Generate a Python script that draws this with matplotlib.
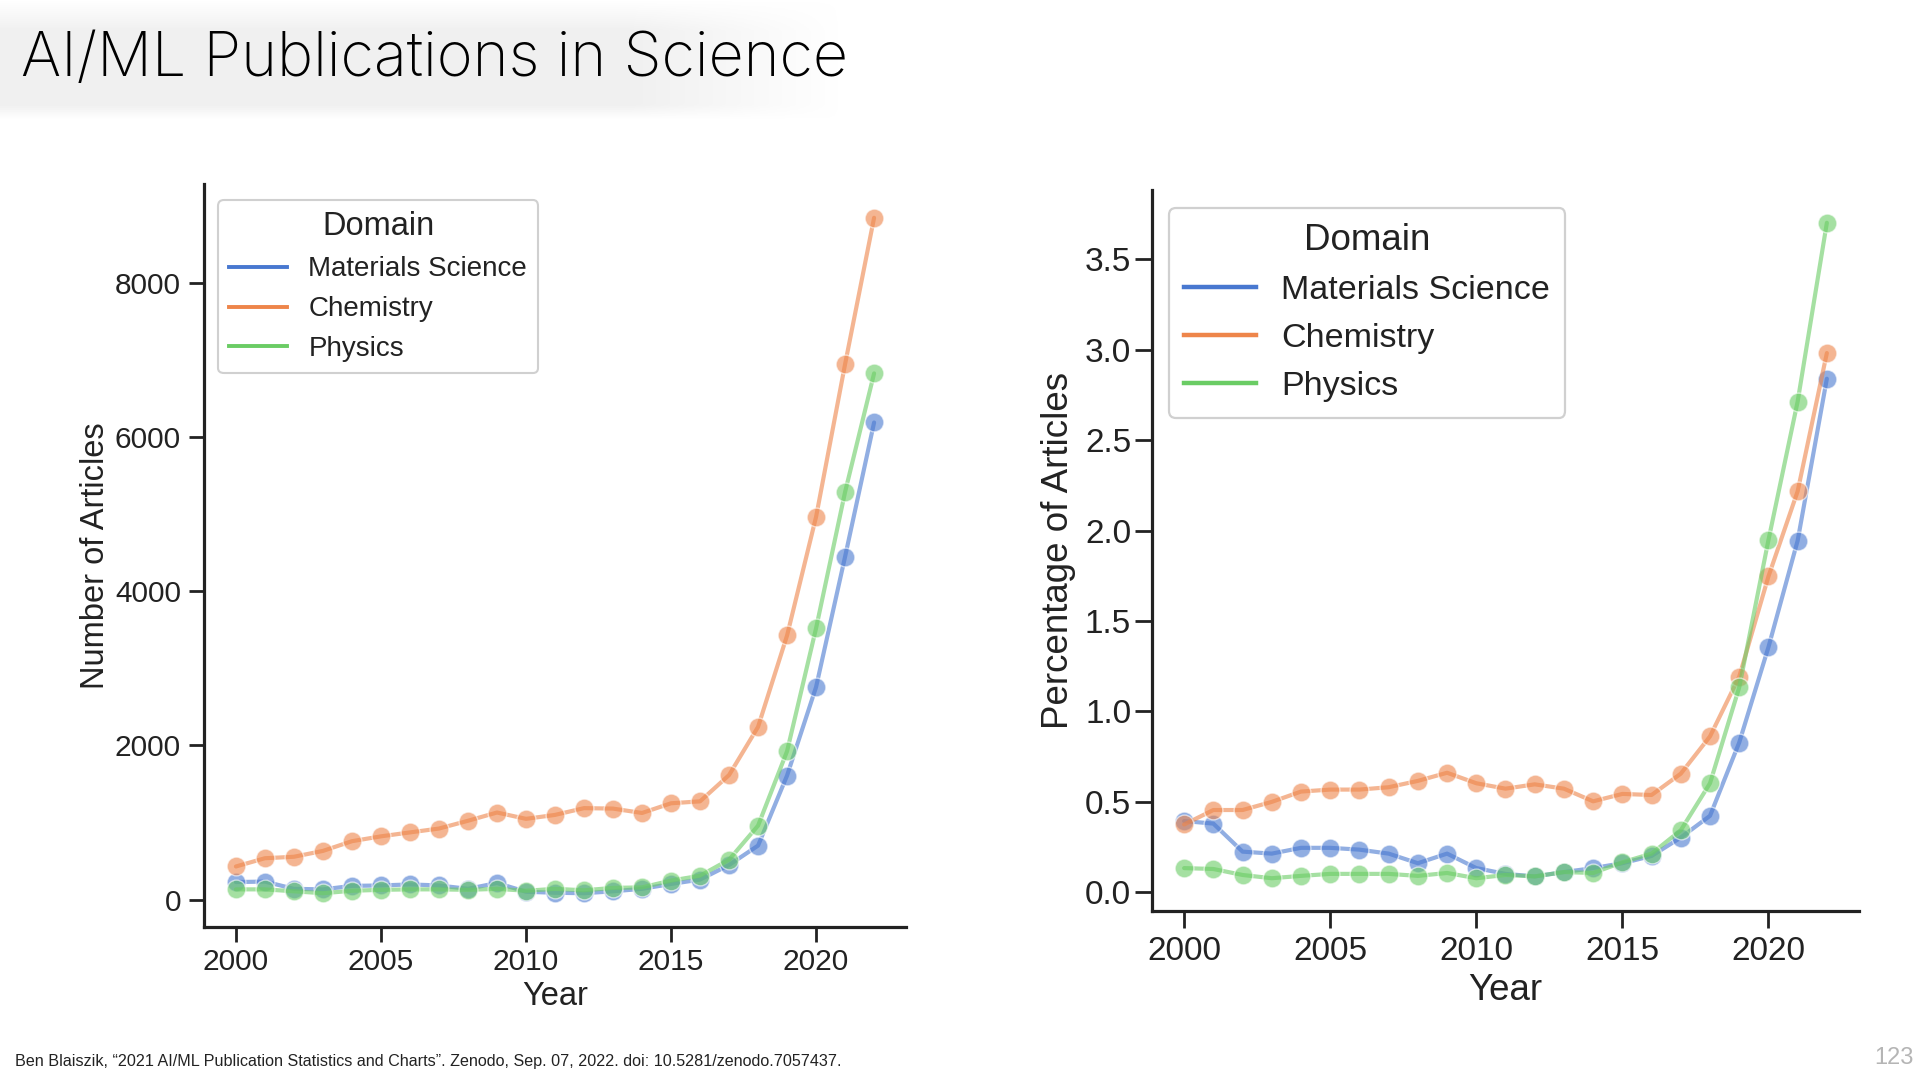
import numpy as np
import matplotlib
matplotlib.use("Agg")
import matplotlib.pyplot as plt

# ---------------- data ----------------
years = list(range(2000, 2023))
domains = ["Materials Science", "Chemistry", "Physics"]

count_materials = [227, 233, 139, 132, 177, 183, 196, 183, 139, 215, 101, 88, 82, 107, 139, 202, 259, 448, 700, 1609, 2757, 4448, 6189]
count_chemistry = [429, 536, 555, 631, 757, 820, 871, 921, 1022, 1129, 1047, 1098, 1186, 1180, 1123, 1249, 1274, 1615, 2240, 3426, 4965, 6946, 8845]
count_physics = [132, 132, 107, 82, 114, 126, 132, 132, 126, 139, 114, 139, 120, 151, 158, 246, 309, 517, 959, 1924, 3520, 5287, 6826]

pct_materials = [0.394, 0.380, 0.225, 0.214, 0.246, 0.246, 0.236, 0.214, 0.161, 0.214, 0.134, 0.102, 0.088, 0.112, 0.134, 0.161, 0.201, 0.303, 0.423, 0.828, 1.355, 1.944, 2.839]
pct_chemistry = [0.375, 0.455, 0.455, 0.500, 0.557, 0.568, 0.568, 0.581, 0.616, 0.661, 0.603, 0.573, 0.597, 0.573, 0.503, 0.544, 0.538, 0.656, 0.862, 1.192, 1.746, 2.217, 2.981]
pct_physics = [0.134, 0.129, 0.096, 0.078, 0.091, 0.102, 0.102, 0.102, 0.091, 0.107, 0.078, 0.096, 0.088, 0.112, 0.107, 0.166, 0.214, 0.343, 0.603, 1.133, 1.947, 2.713, 3.701]

x_ticks = [2000, 2005, 2010, 2015, 2020]
left_yticks = [0, 2000, 4000, 6000, 8000]
right_yticks = [0.0, 0.5, 1.0, 1.5, 2.0, 2.5, 3.0, 3.5]

title_text = "AI/ML Publications in Science"
footer_text = "Ben Blaiszik, \u201c2021 AI/ML Publication Statistics and Charts\u201d. Zenodo, Sep. 07, 2022. doi: 10.5281/zenodo.7057437."
page_text = "123"

colors = ["#4878D0", "#EE854A", "#6ACC64"]

plt.rcParams["font.family"] = ["Liberation Sans", "DejaVu Sans"]

fig = plt.figure(figsize=(19.2, 10.8), dpi=100)
fig.patch.set_facecolor("white")

# ---- title background gradient ----
bg = fig.add_axes([0, 1 - 120 / 1080, 840 / 1920, 120 / 1080], zorder=-5)
gx = np.linspace(0, 1, 400)
gy = np.linspace(0, 1, 60)
fx = np.clip((1 - gx) / 0.25, 0, 1)
fy = np.clip(gy / 0.25, 0, 1) * np.clip((1 - gy) / 0.12, 0, 1)
alpha = np.outer(fy, fx) * 0.75
img = np.zeros((60, 400, 4))
img[..., 0:3] = 0.925
img[..., 3] = alpha
bg.imshow(img, aspect="auto", extent=(0, 1, 0, 1), origin="upper")
bg.set_axis_off()

fig.text(21 / 1920, 1 - 76 / 1080, title_text, fontsize=44, family=["Inter", "Lato", "DejaVu Sans"],
         fontweight="light", color="#000000", ha="left", va="baseline")


def style_axes(ax, tick_fs, tick_len, pad_x, pad_y):
    for side in ["top", "right"]:
        ax.spines[side].set_visible(False)
    for side in ["left", "bottom"]:
        ax.spines[side].set_linewidth(2.3)
        ax.spines[side].set_color("#222222")
    ax.tick_params(axis="both", which="major", length=tick_len, width=2.0, color="#222222",
                   labelsize=tick_fs, labelcolor="#222222")
    ax.tick_params(axis="x", pad=pad_x)
    ax.tick_params(axis="y", pad=pad_y)
    ax.set_facecolor("white")


def draw(ax, series, lw, ms):
    for name, vals, c in zip(domains, series, colors):
        ax.plot(years, vals, color=c, alpha=0.6, lw=lw, marker="o", markersize=ms,
                markeredgecolor="white", markeredgewidth=1.0, solid_capstyle="round")


# ---------------- left axes ----------------
axL = fig.add_axes([204 / 1920, 1 - 927 / 1080, 702 / 1920, 743 / 1080])
draw(axL, [count_materials, count_chemistry, count_physics], lw=3.0, ms=13.5)
axL.set_xticks(x_ticks)
axL.set_yticks(left_yticks)
axL.margins(x=0.05, y=0.05)
style_axes(axL, 21.5, 11, 4, 5.5)
axL.set_xlabel("Year", fontsize=23.5, color="#222222")
axL.set_ylabel("Number of Articles", fontsize=23.5, color="#222222")
axL.xaxis.set_label_coords(0.5, -0.073)
axL.yaxis.set_label_coords(-0.132, 0.5)

handlesL = [plt.Line2D([], [], color=c, lw=2.8) for c in colors]
legL = axL.legend(handlesL, domains, title="Domain", loc="upper left",
                  bbox_to_anchor=(0.02, 0.978), borderaxespad=0, fontsize=20,
                  title_fontsize=23.5, frameon=True, fancybox=True, framealpha=1,
                  edgecolor="#d0d0d0", handlelength=2.1, handletextpad=0.75,
                  labelspacing=0.5, borderpad=0.4)
legL.get_frame().set_linewidth(1.5)
for t in legL.get_texts():
    t.set_color("#222222")
legL.get_title().set_color("#222222")

# ---------------- right axes ----------------
axR = fig.add_axes([1152 / 1920, 1 - 911 / 1080, 707 / 1920, 721 / 1080])
draw(axR, [pct_materials, pct_chemistry, pct_physics], lw=3.0, ms=13.5)
axR.set_xticks(x_ticks)
axR.set_yticks(right_yticks)
axR.yaxis.set_major_formatter(matplotlib.ticker.FormatStrFormatter("%.1f"))
axR.margins(x=0.05, y=0.05)
style_axes(axR, 24, 12, 6, 3)
axR.set_xlabel("Year", fontsize=26.5, color="#222222")
axR.set_ylabel("Percentage of Articles", fontsize=26.5, color="#222222")
axR.xaxis.set_label_coords(0.5, -0.086)
axR.yaxis.set_label_coords(-0.108, 0.5)

handlesR = [plt.Line2D([], [], color=c, lw=3.2) for c in colors]
legR = axR.legend(handlesR, domains, title="Domain", loc="upper left",
                  bbox_to_anchor=(0.024, 0.975), borderaxespad=0, fontsize=24.5,
                  title_fontsize=26.5, frameon=True, fancybox=True, framealpha=1,
                  edgecolor="#d0d0d0", handlelength=2.1, handletextpad=0.75,
                  labelspacing=0.5, borderpad=0.45)
legR.get_frame().set_linewidth(1.6)
for t in legR.get_texts():
    t.set_color("#222222")
legR.get_title().set_color("#222222")

# ---------------- footer ----------------
fig.text(15 / 1920, 1 - 1066 / 1080, footer_text, fontsize=11.6, color="#222222",
         ha="left", va="baseline")
fig.text(1914 / 1920, 1 - 1064 / 1080, page_text, fontsize=17, color="#b5b5b5",
         ha="right", va="baseline", family=["Liberation Sans", "DejaVu Sans"])

fig.savefig("out.png", dpi=100, facecolor="white")
